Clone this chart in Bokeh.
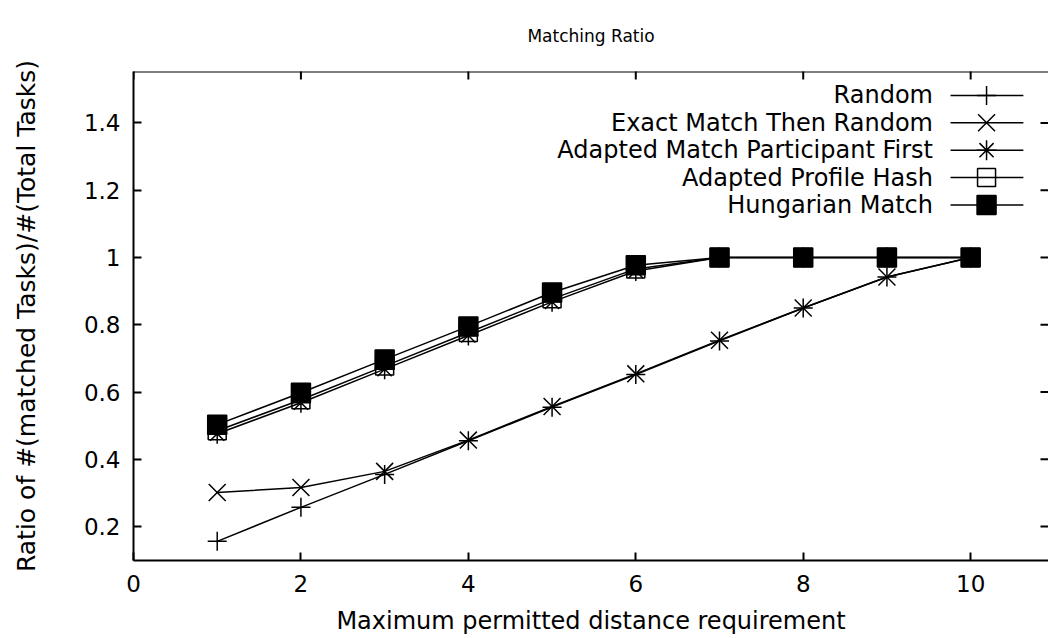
import math
from bokeh.plotting import figure
from bokeh.models import Range1d, FixedTicker, PrintfTickFormatter, ColumnDataSource, Span
from bokeh.embed import file_html
from bokeh.resources import INLINE
from bokeh.core.properties import value

# ---- data ----
distance = [1, 2, 3, 4, 5, 6, 7, 8, 9, 10]
random_ratio = [0.156, 0.257, 0.355, 0.455, 0.555, 0.652, 0.752, 0.850, 0.942, 1.0]
exact_then_random = [0.301, 0.316, 0.364, 0.457, 0.557, 0.654, 0.754, 0.850, 0.942, 1.0]
adapted_match_pf = [0.476, 0.568, 0.668, 0.768, 0.868, 0.960, 1.0, 1.0, 1.0, 1.0]
adapted_profile_hash = [0.485, 0.577, 0.677, 0.777, 0.877, 0.966, 1.0, 1.0, 1.0, 1.0]
hungarian = [0.503, 0.598, 0.697, 0.795, 0.896, 0.977, 1.0, 1.0, 1.0, 1.0]

series_names = ["Random", "Exact Match Then Random", "Adapted Match Participant First",
                "Adapted Profile Hash", "Hungarian Match"]
series_values = [random_ratio, exact_then_random, adapted_match_pf, adapted_profile_hash, hungarian]
series_markers = ["cross", "x", "asterisk", "square", "square"]
series_fill = [None, None, None, None, "black"]
series_size = [19, 24, 20, 18, 19]

x_ticks = [0, 2, 4, 6, 8, 10]
y_ticks = [0.2, 0.4, 0.6, 0.8, 1.0, 1.2, 1.4]

FONT = "DejaVu Sans"
X0, X1 = 0, 10.93
Y0, Y1 = 0.099, 1.553

p = figure(width=1048, height=638, output_backend="svg", toolbar_location=None,
           x_range=Range1d(X0, X1), y_range=Range1d(Y0, Y1),
           min_border_left=133, min_border_right=0, min_border_top=71, min_border_bottom=78,
           title="Matching Ratio", x_axis_label="Maximum permitted distance requirement",
           y_axis_label="Ratio of #(matched Tasks)/#(Total Tasks)")
p.outline_line_color = None
p.grid.visible = False
p.background_fill_color = "white"
p.border_fill_color = "white"

p.title.align = "center"
p.title.vertical_align = "top"
p.title.text_font = FONT
p.title.text_font_style = "normal"
p.title.text_font_size = "17px"
p.title.text_color = "black"
p.title.standoff = 48

def style_axis(ax):
    ax.axis_line_width = 2
    ax.axis_line_color = "black"
    ax.major_tick_in = 8
    ax.major_tick_out = 0
    ax.major_tick_line_width = 2
    ax.minor_tick_line_color = None
    ax.major_label_text_font = FONT
    ax.major_label_text_color = "black"
    ax.major_label_text_font_size = "23px"
    ax.axis_label_text_font = FONT
    ax.axis_label_text_font_style = "normal"
    ax.axis_label_text_color = "black"
    ax.axis_label_text_font_size = "24px"

xb = p.xaxis[0]
style_axis(xb)
xb.ticker = FixedTicker(ticks=x_ticks)
xb.major_label_standoff = 14
xb.axis_label_standoff = 12

yl = p.yaxis[0]
style_axis(yl)
yl.ticker = FixedTicker(ticks=y_ticks)
yl.formatter = PrintfTickFormatter(format="%g")
yl.major_label_standoff = 13
yl.axis_label_standoff = 40
yl.axis_label_text_font_size = "25px"

# top border and mirrored (inward) ticks on top and right
p.add_layout(Span(location=Y1, dimension="width", line_color="black", line_width=2))
p.scatter(x=x_ticks, y=[Y1] * len(x_ticks), marker="dash", size=16, angle=math.pi / 2,
          line_color="black", line_width=2)
p.scatter(x=[X1] * len(y_ticks), y=y_ticks, marker="dash", size=16,
          line_color="black", line_width=2)

# ---- series ----
for name, vals, mk, fc, sz in zip(series_names, series_values, series_markers, series_fill, series_size):
    src = ColumnDataSource(dict(x=distance, y=vals))
    p.line("x", "y", source=src, line_color="black", line_width=1.5)
    p.scatter("x", "y", source=src, marker=mk, size=sz, line_color="black",
              fill_color=fc, line_width=1.5)

# ---- gnuplot-style key (label left, sample right) ----
leg_text_x = 9.55
leg_x0, leg_x1, leg_mx = 9.76, 10.63, 10.19
leg_y0, leg_dy = 1.482, 0.0815
n = len(series_names)
leg_y = [leg_y0 - i * leg_dy for i in range(n)]
p.text(x=[leg_text_x] * n, y=leg_y, text=series_names, text_align="right",
       text_baseline="middle", text_font=value(FONT), text_font_size="24px", text_color="black")
p.segment(x0=[leg_x0] * n, y0=leg_y, x1=[leg_x1] * n, y1=leg_y, line_color="black", line_width=1.5)
for i in range(n):
    p.scatter(x=[leg_mx], y=[leg_y[i]], marker=series_markers[i], size=series_size[i],
              line_color="black", fill_color=series_fill[i], line_width=1.5)

open("out.html", "w").write(file_html(p, INLINE))
